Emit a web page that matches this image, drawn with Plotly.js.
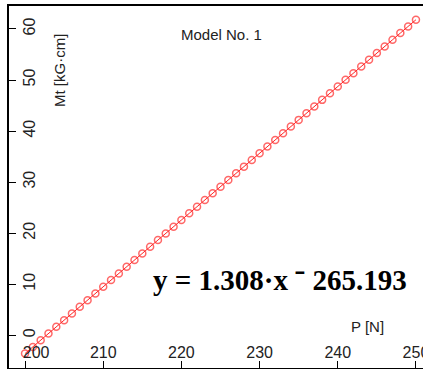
<!DOCTYPE html>
<html>
<head>
<meta charset="utf-8">
<script src="https://cdn.plot.ly/plotly-3.0.1.min.js"></script>
<style>html,body{margin:0;padding:0;background:#fff;}#chart{width:423px;height:369px;}</style>
</head>
<body>
<div id="chart"></div>
<script>
const xValues = [200,201,202,203,204,205,206,207,208,209,210,211,212,213,214,215,216,217,218,219,220,221,222,223,224,225,226,227,228,229,230,231,232,233,234,235,236,237,238,239,240,241,242,243,244,245,246,247,248,249,250];
const yValues = [-3.59,-2.29,-0.98,0.33,1.64,2.95,4.26,5.56,6.87,8.18,9.49,10.80,12.10,13.41,14.72,16.03,17.34,18.64,19.95,21.26,22.57,23.88,25.18,26.49,27.80,29.11,30.42,31.72,33.03,34.34,35.65,36.96,38.26,39.57,40.88,42.19,43.50,44.80,46.11,47.42,48.73,50.04,51.34,52.65,53.96,55.27,56.58,57.88,59.19,60.50,61.81];
const xTicks = [200,210,220,230,240,250];
const xTickText = ["\u00a0\u00a0\u00a0\u00a0\u00a0200","210","220","230","240","250"];
const yTicks = [0,10,20,30,40,50,60];
const chartTitle = "Model No. 1";
const xTitle = "P [N]";
const yTitle = "Mt [kG·cm]";
const equation = "y = 1.308·x ⁻ 265.193";

const trace = {
  x: xValues, y: yValues, type: 'scatter', mode: 'lines+markers',
  line: {color: 'rgba(255,0,0,0.85)', width: 1},
  marker: {symbol: 'circle-open', size: 7, color: 'rgba(255,40,40,0.7)', line: {width: 1.5}},
  hoverinfo: 'none'
};
const tickFont = {family: 'Liberation Sans, Arial, sans-serif', size: 16, color: '#222'};
const layout = {
  width: 423, height: 369,
  margin: {l: 9, r: 0, t: 6, b: 1},
  paper_bgcolor: '#fff', plot_bgcolor: '#fff',
  showlegend: false,
  xaxis: {
    range: [197.95, 250.9], tickvals: xTicks, ticktext: xTickText,
    ticks: 'inside', ticklen: 7, tickwidth: 1, tickcolor: '#000',
    ticklabelposition: 'inside', ticklabeloverflow: 'allow', tickfont: tickFont,
    showline: true, linecolor: '#000', linewidth: 2, mirror: true,
    showgrid: false, zeroline: false
  },
  yaxis: {
    range: [-6.42, 64.5], tickvals: yTicks, ticktext: yTicks.map(String),
    ticks: 'inside', ticklen: 7, tickwidth: 1, tickcolor: '#000',
    ticklabelposition: 'inside', ticklabeloverflow: 'allow', tickangle: -90, tickfont: tickFont,
    showline: true, linecolor: '#000', linewidth: 2,
    showgrid: false, zeroline: false
  },
  annotations: [
    {text: chartTitle, xref: 'paper', yref: 'paper', x: (222-9)/414, y: (369-1-35)/362, xanchor: 'center', yanchor: 'middle', showarrow: false,
     font: {family: 'Liberation Sans, Arial, sans-serif', size: 15, color: '#222'}},
    {text: xTitle, xref: 'paper', yref: 'paper', x: (367-9)/414, y: (369-1-326)/362, xanchor: 'center', yanchor: 'middle', showarrow: false,
     font: {family: 'Liberation Sans, Arial, sans-serif', size: 15, color: '#222'}},
    {text: yTitle, xref: 'paper', yref: 'paper', x: (59-9)/414, y: (369-1-71)/362, xanchor: 'center', yanchor: 'middle', showarrow: false, textangle: -90,
     font: {family: 'Liberation Sans, Arial, sans-serif', size: 15, color: '#222'}},
    {text: '<b>' + equation + '</b>', xref: 'paper', yref: 'paper', x: (280-9)/414, y: (369-1-280)/362, xanchor: 'center', yanchor: 'middle', showarrow: false,
     font: {family: 'Liberation Serif, Times New Roman, serif', size: 29, color: '#000'}}
  ]
};
Plotly.newPlot('chart', [trace], layout, {displayModeBar: false, staticPlot: true});
</script>
</body>
</html>
